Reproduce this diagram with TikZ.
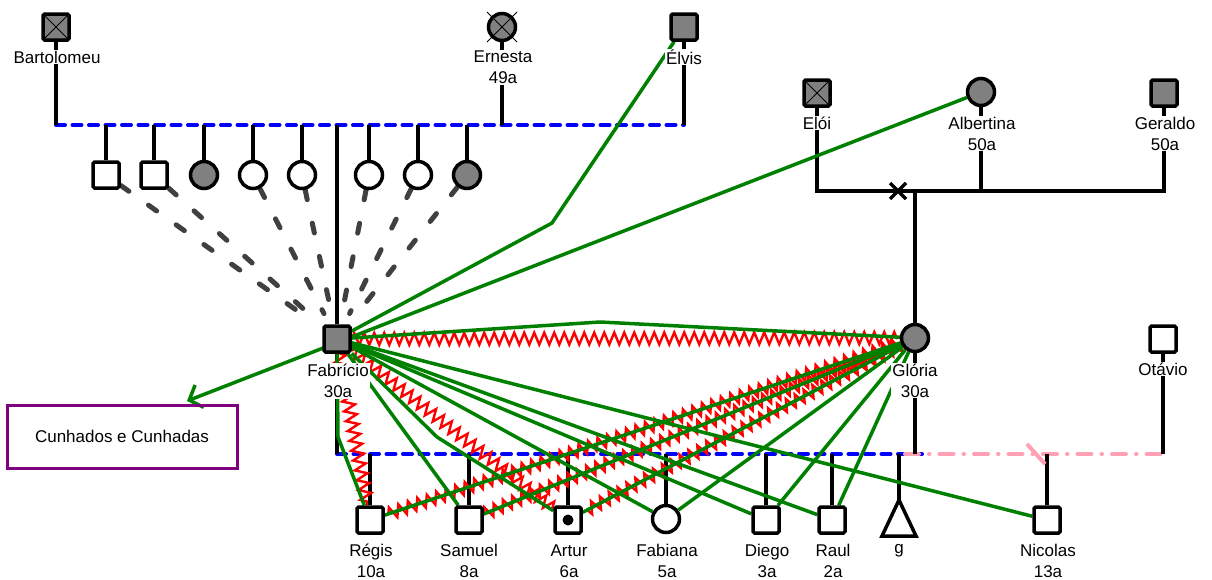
\documentclass[tikz,border=0pt]{standalone}
\usepackage{fontspec}
\setmainfont{Liberation Sans}
\usetikzlibrary{decorations.pathmorphing,arrows.meta,calc}
\pgfdeclarelayer{bg}
\pgfdeclarelayer{paper}
\pgfsetlayers{paper,bg,main}
\definecolor{gfill}{RGB}{128,128,128}
\definecolor{grn}{RGB}{0,128,0}
\definecolor{pnk}{RGB}{255,160,180}
\definecolor{purp}{RGB}{128,0,128}
\definecolor{sibc}{RGB}{64,64,64}
\newcommand\lab{\fontsize{17}{21}\selectfont}
\begin{document}
\begin{tikzpicture}[x=1pt,y=-1pt,
  pers/.style={draw=black, line width=3.5pt, minimum size=26pt, inner sep=0pt},
  sq/.style={pers, rectangle, rounded corners=1.5pt},
  ci/.style={pers, circle, minimum size=27pt},
  gf/.style={fill=gfill},
  wf/.style={fill=white},
  dead/.style={path picture={\draw[line width=0.8pt] (path picture bounding box.north west) -- (path picture bounding box.south east) (path picture bounding box.north east) -- (path picture bounding box.south west);}},
  lbl/.style={fill=white, inner sep=1pt, font=\lab, align=center},
  bl/.style={draw=black, line width=3.5pt},
  bdash/.style={draw=blue, line width=4pt, dash pattern=on 9pt off 7.5pt, line cap=round},
  pdash/.style={draw=pnk, line width=4pt, dash pattern=on 14pt off 10pt on 0.5pt off 10pt, line cap=round},
  sib/.style={draw=sibc, line width=5pt, dash pattern=on 10pt off 24pt, line cap=round, shorten >=12pt},
  gr/.style={draw=grn, line width=3.5pt},
  zz/.style={draw=red, line width=2.4pt, decorate, decoration={zigzag, segment length=10pt, amplitude=6pt}}
]
\useasboundingbox (0,0) rectangle (1212,579);
\begin{pgfonlayer}{paper}
\fill[white] (0,0) rectangle (1212,579);
\end{pgfonlayer}

% ---- top generation
\node[sq,gf,dead] (bart) at (56,27) {};
\node[lbl] at (57,57) {Bartolomeu};
\node[ci,gf] (ern) at (502,27) {};
\draw[line width=0.8pt] (ern) ++(-15,-15) -- ++(30,30) (ern) ++(15,-15) -- ++(-30,30);
\node[lbl] at (503,67.5) {Ernesta\\49a};
\node[sq,gf] (elv) at (684,27) {};
\node[lbl] at (684,57) {Élvis};

\node[sq,gf,dead] (eloi) at (817,93) {};
\node[lbl] at (817,123) {Elói};
\node[ci,gf] (alb) at (981,92) {};
\node[lbl] at (982,133.5) {Albertina\\50a};
\node[sq,gf] (ger) at (1164,93) {};
\node[lbl] at (1165,133.5) {Geraldo\\50a};

% ---- siblings
\node[sq,wf] (s1) at (106,175) {};
\node[sq,wf] (s2) at (154,175) {};
\node[ci,gf] (s3) at (204,175) {};
\node[ci,wf] (s4) at (253,175) {};
\node[ci,wf] (s5) at (302,175) {};
\node[ci,wf] (s6) at (369,175) {};
\node[ci,wf] (s7) at (418,175) {};
\node[ci,gf] (s8) at (467,175) {};

% ---- couple
\node[sq,gf] (fab) at (337,339) {};
\node[lbl] at (338,381) {Fabrício\\30a};
\node[ci,gf] (glo) at (915,338) {};
\node[lbl] at (915,380.5) {Glória\\30a};
\node[sq,wf] (ota) at (1163,339) {};
\node[lbl] at (1163,369) {Otávio};

% ---- children
\node[sq,wf] (reg) at (370,520) {};
\node[lbl] at (371,561) {Régis\\10a};
\node[sq,wf] (sam) at (469,520) {};
\node[lbl] at (469,561) {Samuel\\8a};
\node[sq,wf] (art) at (568,520) {};
\fill (art) circle (5.5pt);
\node[lbl] at (569,561) {Artur\\6a};
\node[ci,wf] (fabi) at (666,519) {};
\node[lbl] at (667,561) {Fabiana\\5a};
\node[sq,wf] (die) at (766,520) {};
\node[lbl] at (767,561) {Diego\\3a};
\node[sq,wf] (rau) at (832,520) {};
\node[lbl] at (833,561) {Raul\\2a};
\coordinate (gap) at (899,500);
\draw[line width=3.5pt, line join=miter, fill=white] (gap) -- (882,536) -- (916,536) -- cycle;
\node[lbl] at (899,551) {g};
\node[sq,wf] (nic) at (1047,520) {};
\node[lbl] at (1048,561) {Nicolas\\13a};

% ---- box
\node[draw=purp, line width=3pt, minimum width=230pt, minimum height=63pt, font=\lab, inner sep=0pt] (box) at (122,436.5) {Cunhados e Cunhadas};
\coordinate (tip) at (187,401);

% ---- coordinates
\coordinate (tl) at (56,125);
\coordinate (tr) at (684,125);
\coordinate (rl) at (817,191);
\coordinate (rr) at (1164,191);
\coordinate (rj) at (915,191);
\coordinate (xm) at (898,191);
\coordinate (bl1) at (337,454);
\coordinate (bl2) at (922,454);
\coordinate (pk1) at (905,454);
\coordinate (pk2) at (1163,454);
\coordinate (eb) at (552,223);
\coordinate (ab) at (600,322);
\coordinate (rb) at (338,437);
\coordinate (ab2) at (437,437);

\begin{pgfonlayer}{bg}
% family lines
\draw[bdash] (tl) -- (tr);
\draw[bl] (bart) -- (tl);
\draw[bl] (ern) -- (ern |- tl);
\draw[bl] (elv) -- (tr);
\foreach \s in {s1,s2,s3,s4,s5,s6,s7,s8} \draw[bl] (\s) -- (\s |- tl);
\draw[bl] (fab) -- (fab |- tl);
\draw[bl] (eloi) -- (rl) -- (rr) -- (ger);
\draw[bl] (alb) -- (alb |- rl);
\draw[bl] (rj) -- (glo);
\draw[bl] (xm) ++(-8,-8) -- ++(16,16) (xm) ++(8,-8) -- ++(-16,16);
\draw[bdash] (bl1) -- (bl2);
\draw[pdash] (pk1) -- (pk2);
\draw[bl] (fab) -- (bl1);
\draw[bl] (glo) -- (glo |- bl1);
\draw[bl] (ota) -- (pk2);
\foreach \c in {reg,sam,art,fabi,die,rau,nic} \draw[bl] (\c) -- (\c |- bl1);
\draw[bl] (gap) -- (gap |- bl1);
\draw[draw=pnk, line width=4pt] (1027,444) -- (1045,464);
% sibling dashed lines
\foreach \s in {s1,s2,s4,s5,s6,s7,s8} \draw[sib] (\s) -- (fab);
% zigzags
\draw[zz] (fab) -- (glo);
\draw[zz] (fab) -- (reg);
\draw[zz] (fab) -- (art);
\draw[zz] (glo) -- (reg);
\draw[zz] (glo) -- (sam);
\draw[zz] (glo) -- (art);
% green lines
\draw[gr, -{Straight Barb[length=11pt,width=24pt,line width=3.5pt]}] (alb) -- (tip);
\draw[gr] (elv) -- (eb) -- (fab);
\draw[gr] (fab) -- (ab) -- (glo);
\draw[gr] (fab) -- (rb) -- (reg);
\draw[gr] (fab) -- (sam);
\draw[gr] (fab) -- (ab2) -- (art);
\draw[gr] (fab) -- (fabi);
\draw[gr] (fab) -- (die);
\draw[gr] (fab) -- (rau);
\draw[gr] (fab) -- (nic);
\draw[gr] (glo) -- (reg);
\draw[gr] (glo) -- (sam);
\draw[gr] (glo) -- (art);
\draw[gr] (glo) -- (fabi);
\draw[gr] (glo) -- (die);
\draw[gr] (glo) -- (rau);
\end{pgfonlayer}
\end{tikzpicture}
\end{document}
